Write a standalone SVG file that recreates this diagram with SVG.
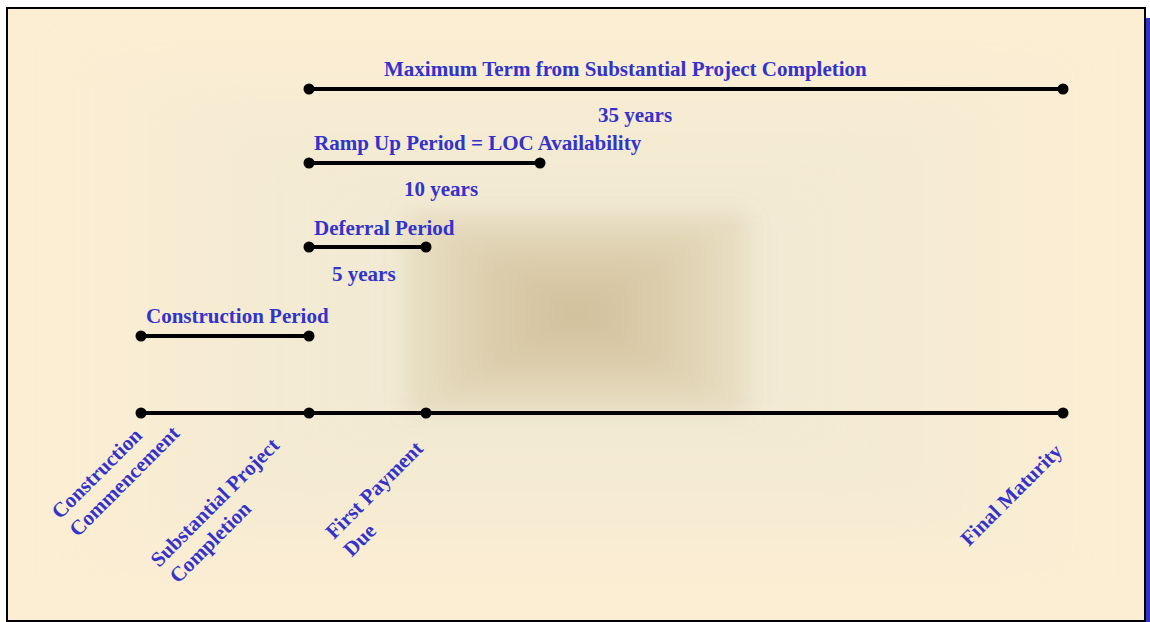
<svg xmlns="http://www.w3.org/2000/svg" width="1150" height="622" viewBox="0 0 1150 622">
  <style>
    .lbl { font-family: "Liberation Serif", "Times New Roman", serif; font-weight: bold; font-size: 21px; fill: #3333CC; }
    .seg { stroke: #000; stroke-width: 4; fill: none; }
    .dot { fill: #000; }
    .gr { fill: #E2E5D6; }
    .sh { fill: #B8A070; }
  </style>
  <defs>
    <filter id="blurWide" x="-20%" y="-20%" width="140%" height="140%">
      <feGaussianBlur stdDeviation="22"/>
    </filter>
    <filter id="blur" x="-30%" y="-30%" width="160%" height="160%">
      <feGaussianBlur stdDeviation="11"/>
    </filter>
    <clipPath id="frameClip">
      <rect x="8" y="9" width="1136" height="611"/>
    </clipPath>
  </defs>
  <rect x="17" y="18" width="1140" height="614" fill="#3333CC"/>
  <rect x="7" y="8" width="1138" height="613" fill="#FCEED3" stroke="#000" stroke-width="2"/>
  <g id="shading" clip-path="url(#frameClip)">
    <g filter="url(#blurWide)">
      <rect class="gr" x="77" y="48" width="1000" height="530" opacity="0.11"/>
      <rect class="gr" x="147" y="85" width="860" height="456" opacity="0.11"/>
      <rect class="gr" x="217" y="122" width="720" height="382" opacity="0.11"/>
      <rect class="gr" x="287" y="159" width="580" height="308" opacity="0.11"/>
      <rect class="gr" x="352" y="193" width="450" height="240" opacity="0.11"/>
    </g>
    <g filter="url(#blur)">
      <rect class="sh" x="407" y="213" width="340" height="200" opacity="0.2"/>
      <rect class="sh" x="447" y="235" width="260" height="156" opacity="0.14"/>
      <rect class="sh" x="482" y="255" width="190" height="116" opacity="0.12"/>
      <rect class="sh" x="517" y="275" width="120" height="76" opacity="0.12"/>
      <rect class="sh" x="547" y="293" width="60" height="40" opacity="0.1"/>
    </g>
  </g>
  <g id="connectors">
    <line class="seg" x1="309" y1="89" x2="1063" y2="89"/>
    <line class="seg" x1="309" y1="163" x2="540" y2="163"/>
    <line class="seg" x1="309" y1="247" x2="426" y2="247"/>
    <line class="seg" x1="141" y1="336" x2="309" y2="336"/>
    <line class="seg" x1="141" y1="413" x2="1063" y2="413"/>
  </g>
  <g id="max-term">
    <circle class="dot" cx="309" cy="89" r="5.5"/>
    <circle class="dot" cx="1063" cy="89" r="5.5"/>
    <text class="lbl" x="384" y="76">Maximum Term from Substantial Project Completion</text>
    <text class="lbl" x="598" y="122">35 years</text>
  </g>
  <g id="ramp-up">
    <circle class="dot" cx="309" cy="163" r="5.5"/>
    <circle class="dot" cx="540" cy="163" r="5.5"/>
    <text class="lbl" x="314" y="150">Ramp Up Period = LOC Availability</text>
    <text class="lbl" x="404" y="196">10 years</text>
  </g>
  <g id="deferral">
    <circle class="dot" cx="309" cy="247" r="5.5"/>
    <circle class="dot" cx="426" cy="247" r="5.5"/>
    <text class="lbl" x="314" y="235">Deferral Period</text>
    <text class="lbl" x="332" y="281">5 years</text>
  </g>
  <g id="construction">
    <circle class="dot" cx="141" cy="336" r="5.5"/>
    <circle class="dot" cx="309" cy="336" r="5.5"/>
    <text class="lbl" x="146" y="323">Construction Period</text>
  </g>
  <g id="timeline">
    <circle class="dot" cx="141" cy="413" r="5.5"/>
    <circle class="dot" cx="309" cy="413" r="5.5"/>
    <circle class="dot" cx="426" cy="413" r="5.5"/>
    <circle class="dot" cx="1063" cy="413" r="5.5"/>
  </g>
  <g id="m-construction-commencement" transform="translate(60,520) rotate(-45)">
    <text class="lbl" x="0" y="0">Construction</text>
    <text class="lbl" x="0" y="25">Commencement</text>
  </g>
  <g id="m-substantial-completion" transform="translate(159,568) rotate(-45)">
    <text class="lbl" x="0" y="0">Substantial Project</text>
    <text class="lbl" x="2" y="25">Completion</text>
  </g>
  <g id="m-first-payment" transform="translate(334,540) rotate(-45)">
    <text class="lbl" x="0" y="0">First Payment</text>
    <text class="lbl" x="0" y="25">Due</text>
  </g>
  <g id="m-final-maturity" transform="translate(969,547) rotate(-45)">
    <text class="lbl" x="0" y="0">Final Maturity</text>
  </g>
</svg>
